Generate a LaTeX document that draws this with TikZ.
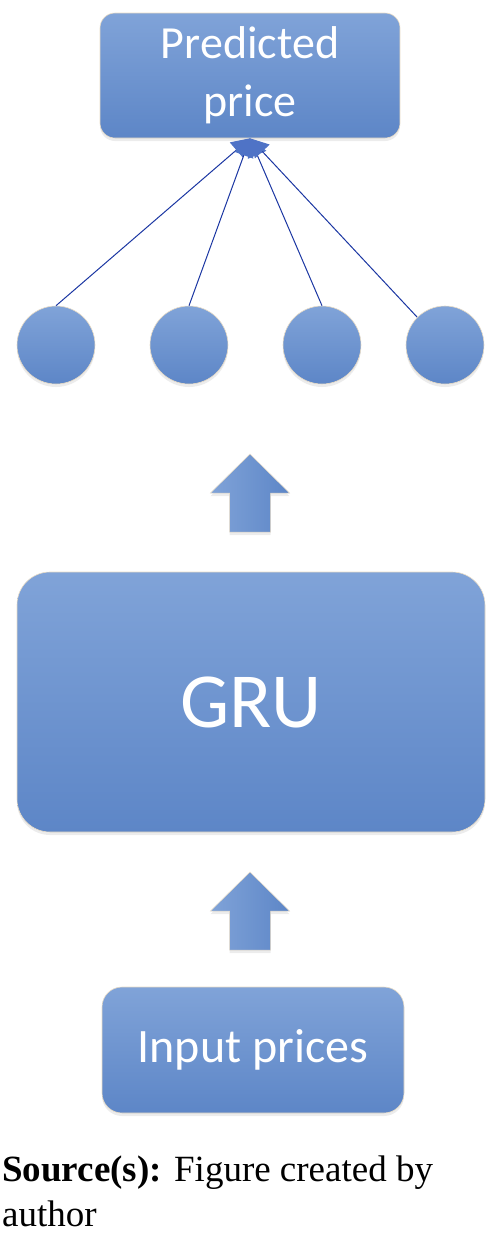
\documentclass[tikz,border=0pt]{standalone}
\usepackage{fontspec}
\setmainfont{Liberation Serif}
\newfontfamily\boxfont{Carlito}
\usetikzlibrary{arrows.meta, shadows}

\definecolor{boxtop}{HTML}{80A3D8}
\definecolor{boxbottom}{HTML}{5D86C7}
\definecolor{boxrim}{HTML}{E9DCC6}
\definecolor{linkblue}{HTML}{1B36A2}
\definecolor{tipblue}{HTML}{4F73C6}

\begin{document}
\begin{tikzpicture}[x=1pt, y=-1pt,
    block/.style={rectangle, draw=boxrim, line width=0.6pt, top color=boxtop, bottom color=boxbottom,
        text=white, font=\boxfont, align=center, inner sep=0pt,
        drop shadow={opacity=0.15, shadow xshift=0pt, shadow yshift=-3pt}},
    neuron/.style={circle, draw=boxrim, line width=0.6pt, top color=boxtop, bottom color=boxbottom,
        minimum size=78pt, inner sep=0pt,
        drop shadow={opacity=0.15, shadow xshift=0pt, shadow yshift=-3pt}},
    link/.style={draw=linkblue, line width=1pt, -{Triangle[color=tipblue, length=18pt, width=20pt]}},
    blockarrow/.style={draw=boxrim, line width=0.5pt, left color=boxtop, right color=boxbottom,
        drop shadow={opacity=0.15, shadow xshift=0pt, shadow yshift=-3pt}}]

    \useasboundingbox (0,0) rectangle (503,1235);

    \node[block, rounded corners=15pt, minimum width=300pt, minimum height=125pt,
        font=\boxfont\fontsize{46}{58}\selectfont] (Predicted) at (250,75.5) {Predicted\\price};

    \node[neuron] (N1) at (56,345) {};
    \node[neuron] (N2) at (189,345) {};
    \node[neuron] (N3) at (322,345) {};
    \node[neuron] (N4) at (445,345) {};

    \draw [link] (N1.north) -- (Predicted.south);
    \draw [link] (N2.north) -- (Predicted.south);
    \draw [link] (N3.north) -- (Predicted.south);
    \draw [link] (N4.north west) -- (Predicted.south);

    \node[block, rounded corners=33pt, minimum width=468pt, minimum height=260pt,
        font=\boxfont\fontsize{78}{90}\selectfont] (GRU) at (251,702) {GRU};

    \node[block, rounded corners=20pt, minimum width=302pt, minimum height=126pt,
        font=\boxfont\fontsize{48}{58}\selectfont] (Input) at (253,1050) {Input prices};

    \coordinate (UpperArrow) at (250,532);
    \coordinate (LowerArrow) at (250,950);

    \draw [blockarrow] (UpperArrow) -- ++(20.5,0) -- ++(0,-39) -- ++(19,0) -- ++(-39.5,-39)
        -- ++(-39.5,39) -- ++(19,0) -- ++(0,39) -- cycle;
    \draw [blockarrow] (LowerArrow) -- ++(20.5,0) -- ++(0,-39) -- ++(19,0) -- ++(-39.5,-39)
        -- ++(-39.5,39) -- ++(19,0) -- ++(0,39) -- cycle;

    \node[anchor=base west, align=left, font=\fontsize{37}{45}\selectfont, inner sep=0pt]
        (Source) at (2,1226) {\textbf{Source(s):} Figure created by\\author};

\end{tikzpicture}
\end{document}
